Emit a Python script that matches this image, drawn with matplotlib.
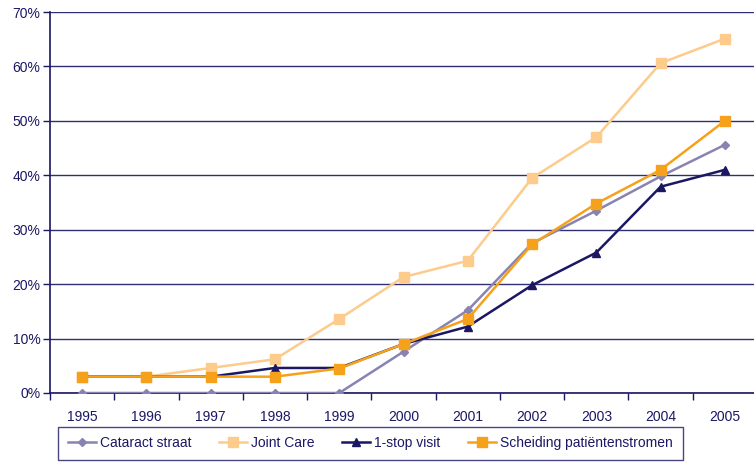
import matplotlib
matplotlib.use("Agg")
import matplotlib.pyplot as plt
from matplotlib.ticker import FuncFormatter, FixedLocator

years = ["1995", "1996", "1997", "1998", "1999", "2000", "2001", "2002", "2003", "2004", "2005"]
cataract_straat = [0.0, 0.0, 0.0, 0.0, 0.0, 7.6, 15.2, 27.5, 33.5, 39.8, 45.6]
joint_care = [3.0, 3.0, 4.6, 6.2, 13.6, 21.3, 24.3, 39.5, 47.0, 60.6, 65.1]
one_stop_visit = [3.0, 3.0, 3.0, 4.6, 4.6, 9.0, 12.2, 19.8, 25.8, 37.9, 41.0]
scheiding = [3.0, 3.0, 3.0, 3.0, 4.5, 9.0, 13.6, 27.3, 34.8, 41.0, 50.0]
y_ticks = [0, 10, 20, 30, 40, 50, 60, 70]

navy = "#1b1763"
plt.rcParams["font.family"] = ["Liberation Sans", "DejaVu Sans"]

fig = plt.figure(figsize=(7.54, 4.62), dpi=100)
ax = fig.add_axes([50 / 754, 1 - 393 / 462, 707 / 754, 381 / 462])

x = list(range(len(years)))
ax.plot(x, cataract_straat, color="#8884b2", marker="D", markersize=4.5, lw=1.8,
        label="Cataract straat", zorder=3)
ax.plot(x, joint_care, color="#fdcb8b", marker="s", markersize=7, lw=1.8,
        label="Joint Care", zorder=2)
ax.plot(x, one_stop_visit, color=navy, marker="^", markersize=6, lw=1.8,
        label="1-stop visit", zorder=4)
ax.plot(x, scheiding, color="#f6a11c", marker="s", markersize=7, lw=1.8,
        label="Scheiding patiëntenstromen", zorder=5)

ax.set_xlim(-0.5, len(years) - 0.5)
ax.set_ylim(0, 70)
ax.set_xticks(x)
ax.set_xticklabels(years)
ax.xaxis.set_minor_locator(FixedLocator([i - 0.5 for i in range(len(years) + 1)]))
ax.tick_params(axis="x", which="major", length=0, pad=12, labelsize=10, labelcolor=navy)
ax.tick_params(axis="x", which="minor", length=5, width=1, color=navy, direction="out")
ax.set_yticks(y_ticks)
ax.yaxis.set_major_formatter(FuncFormatter(lambda v, p: f"{int(v)}%"))
ax.tick_params(axis="y", length=5, width=1, color=navy, direction="out",
               labelsize=10, labelcolor=navy, pad=2)
ax.grid(axis="y", color=navy, lw=1, alpha=0.9)
ax.set_axisbelow(True)
for side in ["top", "right"]:
    ax.spines[side].set_visible(False)
for side in ["left", "bottom"]:
    ax.spines[side].set_color(navy)
    ax.spines[side].set_linewidth(1.2)

leg = fig.legend(loc="lower left", bbox_to_anchor=(58 / 754, 2 / 462), ncol=4,
                 frameon=True, fancybox=False, fontsize=10, handlelength=2.0,
                 columnspacing=2.0, borderpad=0.7, handletextpad=0.3,
                 borderaxespad=0)
leg.get_frame().set_edgecolor(navy)
leg.get_frame().set_linewidth(1)
for t in leg.get_texts():
    t.set_color(navy)

fig.savefig("out.png", dpi=100)
